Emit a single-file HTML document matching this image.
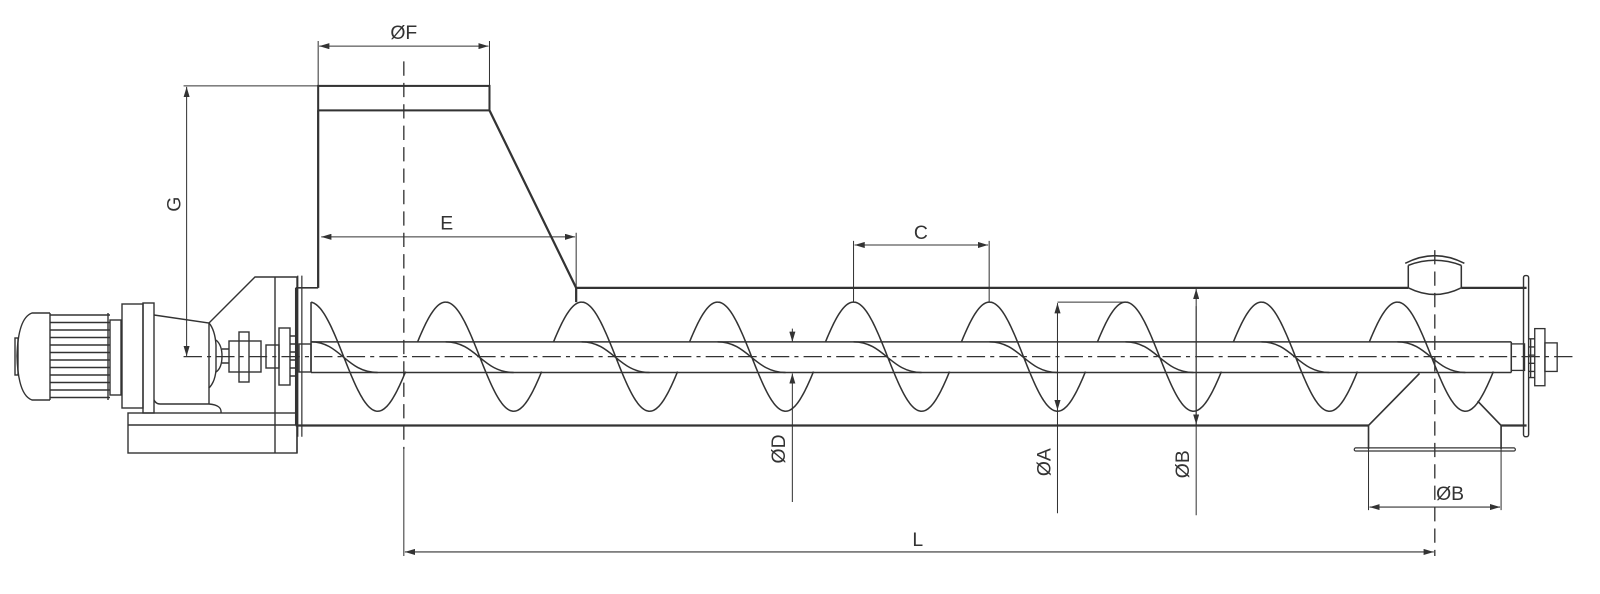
<!DOCTYPE html>
<html><head><meta charset="utf-8"><style>
html,body{margin:0;padding:0;background:#fff;}
svg{position:absolute;left:0;top:0;}
text{font-family:"Liberation Sans",sans-serif;font-size:19px;fill:#333;}
</style></head><body>
<svg width="1600" height="594" viewBox="0 0 1569 582" xmlns="http://www.w3.org/2000/svg">
<defs>
<marker id="a" viewBox="0 0 10 6" refX="10" refY="3" markerWidth="10" markerHeight="6" orient="auto-start-reverse" markerUnits="userSpaceOnUse"><path d="M0,0 L10,3 L0,6z" fill="#333"/></marker>
</defs>
<g fill="none" stroke="#333" stroke-width="1.3">
<!-- hopper -->
<rect x="312" y="84" width="168" height="24" stroke-width="2"/>
<path d="M312,108 V282 M480,108 L565,282 V296" stroke-width="2.2"/>
<!-- trough -->
<path d="M565,282 H1381 M1433,282 H1497 M290,417 H1342 M1472,417 H1497" stroke-width="2.2"/>
<path d="M290,282 H312 M290,282 V417" stroke-width="1.5"/>
<path d="M296,270 V428 M292,270 V428" stroke-width="1.2"/>
<!-- outlet top nozzle -->
<path d="M1381,282 V260 M1433,282 V260 M1381,282 Q1407,295 1433,282" stroke-width="1.5"/>
<path d="M1378,258 Q1407,243 1436,258 M1381,260 Q1407,250 1433,260" stroke-width="1.5"/>
<!-- outlet bottom -->
<path d="M1342,417 L1392,366 M1449,393 L1472,417 M1342,417 V440 M1472,417 V440" stroke-width="1.6"/>
<rect x="1328" y="439" width="158" height="3" rx="1.5" stroke-width="1.2"/>
<!-- right flange / bearing -->
<rect x="1494" y="270" width="5" height="158" rx="2" stroke-width="1.4"/>
<rect x="1482" y="337" width="13" height="26"/>
<path d="M1499,332 H1505 M1499,340 H1505 M1499,348 H1505 M1499,356 H1505 M1499,364 H1505 M1499,370 H1505 M1501,332 V370"/>
<rect x="1505" y="322" width="10" height="56"/>
<rect x="1515" y="336" width="12" height="28"/>
<!-- shaft -->
<path d="M305,335 H1482 M305,365 H1482 M1482,335 V365 M305,296 V365" stroke-width="1.5"/>
<path id="screw" stroke-width="1.5" d=""/>
<!-- center lines -->
<path d="M180,349.5 H1545" stroke-dasharray="18,5,4,5" stroke-width="1.2"/>
<path d="M396,60 V440" stroke-dasharray="14,7" stroke-width="1.3"/>
<path d="M1407,245 V545" stroke-dasharray="14,7" stroke-width="1.3"/>
<!-- dimensions -->
<g stroke-width="1">
<path d="M312,40 V84 M480,40 V84"/>
<path d="M313,45 H479" marker-start="url(#a)" marker-end="url(#a)"/>
<path d="M180,84 H312"/>
<path d="M183,85 V349" marker-start="url(#a)" marker-end="url(#a)"/>
<path d="M315,232 H564" marker-start="url(#a)" marker-end="url(#a)"/>
<path d="M565,228 V282"/>
<path d="M837,236 V296 M970,236 V296"/>
<path d="M838,240 H969" marker-start="url(#a)" marker-end="url(#a)"/>
<path d="M777,322 V335" marker-end="url(#a)"/>
<path d="M777,492 V366" marker-end="url(#a)"/>
<path d="M1037,296 H1104"/>
<path d="M1037,297 V503" marker-start="url(#a)"/>
<path d="M1037,300 V402" marker-end="url(#a)"/>
<path d="M1173,283 V505" marker-start="url(#a)"/>
<path d="M1173,300 V416" marker-end="url(#a)"/>
<path d="M1342,440 V500 M1472,440 V500"/>
<path d="M1343,497 H1471" marker-start="url(#a)" marker-end="url(#a)"/>
<path d="M396,440 V545"/>
<path d="M397,541 H1406" marker-start="url(#a)" marker-end="url(#a)"/>
</g>
</g>
<g>
<text x="396" y="38" text-anchor="middle">ØF</text>
<text x="438" y="225" text-anchor="middle">E</text>
<text x="903" y="234" text-anchor="middle">C</text>
<text x="900" y="535" text-anchor="middle">L</text>
<text x="1422" y="490" text-anchor="middle">ØB</text>
<text transform="translate(177,200) rotate(-90)" text-anchor="middle">G</text>
<text transform="translate(770,440) rotate(-90)" text-anchor="middle">ØD</text>
<text transform="translate(1030,453) rotate(-90)" text-anchor="middle">ØA</text>
<text transform="translate(1166,455) rotate(-90)" text-anchor="middle">ØB</text>
</g>
</svg>
<svg width="1600" height="594" xmlns="http://www.w3.org/2000/svg">
<g fill="none" stroke="#333" stroke-width="1.4">
<!-- motor -->
<path d="M50,313 H32 Q18,318 17,356 Q18,395 32,400 H50"/>
<rect x="15" y="338" width="3" height="37"/>
<path id="fins" d=""/>
<rect x="110" y="320" width="11" height="75"/>
<rect x="122" y="304" width="21" height="104"/>
<rect x="143" y="303" width="11" height="110"/>
<path d="M154,315 L209,323 Q215,330 216,345 V370 Q215,382 209,388 V404 Q222,405 221,413 M154,400 Q156,404 160,404 H209"/>
<path d="M209,323 L255,277 H298 M209,323 V388 M275,277 V453 M297,277 V453"/>
<path d="M216,340 Q222,345 222,356 Q222,368 216,372 M222,349 H229 M222,363 H229"/>
<rect x="128" y="413" width="169" height="40"/>
<path d="M128,425 H297"/>
<rect x="239" y="332" width="10" height="50"/>
<rect x="229" y="341" width="32" height="31"/>
<rect x="266" y="345" width="13" height="23"/>
<rect x="279" y="328" width="11" height="57"/>
<path d="M290,336 H296 M290,344 H296 M290,352 H296 M290,360 H296 M290,368 H296 M290,376 H296"/>
<rect x="299" y="344" width="12" height="28"/>
</g>
</svg>
<script>
(function(){
var P=133.333,A=53.5,C=349.5,X0=437;
function y(x){return C-A*Math.cos(2*Math.PI*(x-X0)/P);}
function seg(a,b){var s="M"+a.toFixed(1)+","+y(a).toFixed(1);for(var x=a+1;x<b;x+=1)s+=" L"+x.toFixed(1)+","+y(x).toFixed(1);s+=" L"+b.toFixed(1)+","+y(b).toFixed(1);return s;}
var d="";
for(var k=-1;k<=7;k++){
 var xc=X0+k*P;
 var st=Math.max(xc,305);
 d+=seg(st,xc+P/2)+" ";
 d+="M"+st+",335 C"+(xc+30)+",335 "+(xc+36)+",365 "+(xc+P/2)+",365 ";
 var xt=xc+P/2;
 if(k<7){ d+=seg(xt,xt+P/2-39.2)+" "; d+=seg(xt+P/2-27.5,xt+P/2)+" "; }
 else { d+=seg(xt,xt+P/2-39.2)+" "; }
}
document.getElementById("screw").setAttribute("d",d);
var f="";for(var i=0;i<12;i++){var yy=315+i*7.5;f+="M50,"+yy+" H110 ";}
f+="M50,313 V400 M108,313 V400";
document.getElementById("fins").setAttribute("d",f);
})();
</script>
</body></html>
